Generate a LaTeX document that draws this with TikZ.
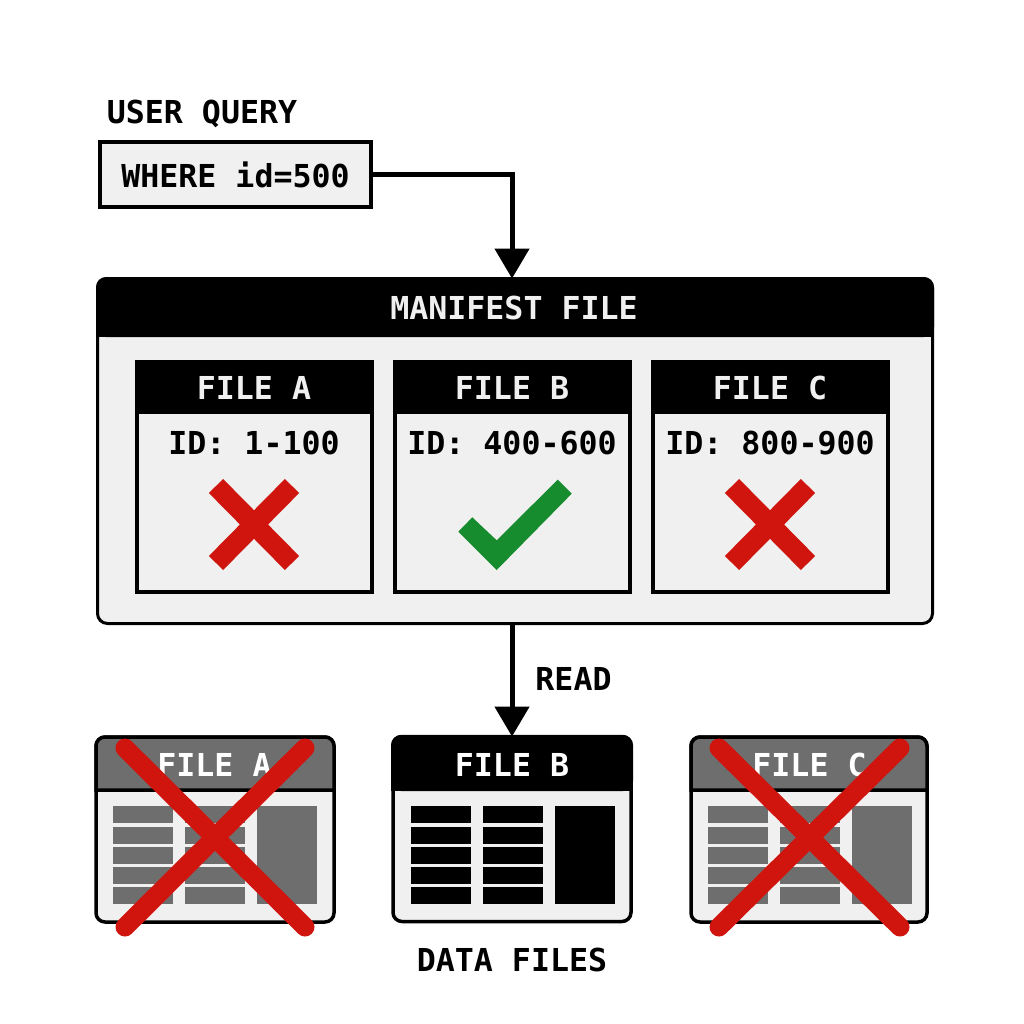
\documentclass[tikz,border=0pt]{standalone}
\usepackage{fontspec}
\setmonofont{DejaVu Sans Mono}
\usetikzlibrary{arrows.meta}
\definecolor{paper}{HTML}{F0F0F0}
\definecolor{fade}{HTML}{6E6E6E}
\definecolor{crossred}{HTML}{CF150E}
\definecolor{okgreen}{HTML}{168C2E}
\tikzset{
  x=1pt,y=-1pt,
  lbl/.style={font=\fontsize{31.6}{36}\selectfont\ttfamily\bfseries,inner sep=0pt,text=black},
  lblw/.style={lbl,text=paper},
  conn/.style={draw=black,line width=5pt,-{Triangle[length=30pt,width=34pt]}},
  markx/.style={draw=crossred,line width=20pt},
  bigx/.style={draw=crossred,line width=19pt,line cap=round},
  panel/.style={draw=black,fill=paper,inner sep=0pt,outer sep=0pt},
}
\newcommand{\datacells}[2]{%
  \foreach \xx in {0,72,144}{%
    \ifnum\xx<144
      \foreach \yy in {806,827,847,867,887}{\fill[#2] (#1+\xx,\yy) rectangle (#1+\xx+59.5,\yy+17);}
    \else
      \fill[#2] (#1+\xx,806) rectangle (#1+\xx+59.5,904);
    \fi}}
\begin{document}
\begin{tikzpicture}
\useasboundingbox (0,0) rectangle (1024,1024);
\fill[white] (0,0) rectangle (1024,1024);

\node[lbl] (qt) at (202,113.5) {USER QUERY};
\node[panel,lbl,line width=4pt,minimum width=271pt,minimum height=65pt] (q) at (235.5,174.5) {WHERE id=500};

% manifest
\node[panel,line width=3pt,rounded corners=10pt,minimum width=835pt,minimum height=345pt] (man) at (515,451) {};
\fill[black,rounded corners=10pt] (96,337) -- (96,277) -- (934,277) -- (934,337) -- cycle;
\fill[black] (96,320) rectangle (934,337);
\node[lblw] (mt) at (514,308) {MANIFEST FILE};

% inner file cards
\foreach \x/\nm/\rng in {134.5/A/1-100,392.5/B/400-600,650.5/C/800-900}{
  \draw[black,line width=4pt,fill=paper] (\x+2,362) rectangle (\x+237,591.5);
  \fill[black] (\x,360) rectangle (\x+239,414);
  \node[lblw] (h\nm) at (\x+119.5,388) {FILE \nm};
  \node[lbl] (r\nm) at (\x+119.5,443) {ID: \rng};
}
\draw[markx] (216,486) -- (292,563) (292,486) -- (216,563);
\draw[markx] (732,486) -- (808,563) (808,486) -- (732,563);
\fill[okgreen] (458.3,531.7) -- (472.3,517.3) -- (496.7,540.3) -- (557.7,479.7) -- (571.7,493.7) -- (496.7,570) -- cycle;

% data files
\foreach \x/\w/\nm in {96/238/A,691/236/C}{
  \draw[black,line width=3.5pt,fill=paper,rounded corners=9pt] (\x,737) rectangle (\x+\w,922);
  \path[fill=fade,draw=black,line width=3.5pt] (\x,790) [rounded corners=9pt] -- (\x,737) -- (\x+\w,737) [sharp corners] -- (\x+\w,790) -- cycle;
  \node[lblw,text=white] (d\nm) at (\x+118.5,765) {FILE \nm};
}
\datacells{113}{fade}
\datacells{708}{fade}
\node[panel,line width=3.5pt,rounded corners=9pt,minimum width=238pt,minimum height=185pt] (db) at (512,829) {};
\fill[black,rounded corners=10pt] (391,791) -- (391,735) -- (633,735) -- (633,791) -- cycle;
\fill[black] (391,775) rectangle (633,791);
\node[lblw,text=white] (dBt) at (512,765) {FILE B};
\datacells{411}{black}

\draw[bigx] (125,748) -- (305,927) (305,748) -- (125,927);
\draw[bigx] (719,748) -- (900,927) (900,748) -- (719,927);

\node[lbl] (rd) at (573.5,679) {READ};
\node[lbl] (df) at (512,960) {DATA FILES};

% connectors
\coordinate (bend) at (512,175);
\draw[conn] (q.east |- bend) -- (bend) -- (bend |- man.north);
\draw[conn] (bend |- man.south) -- (db.north);
\end{tikzpicture}
\end{document}
